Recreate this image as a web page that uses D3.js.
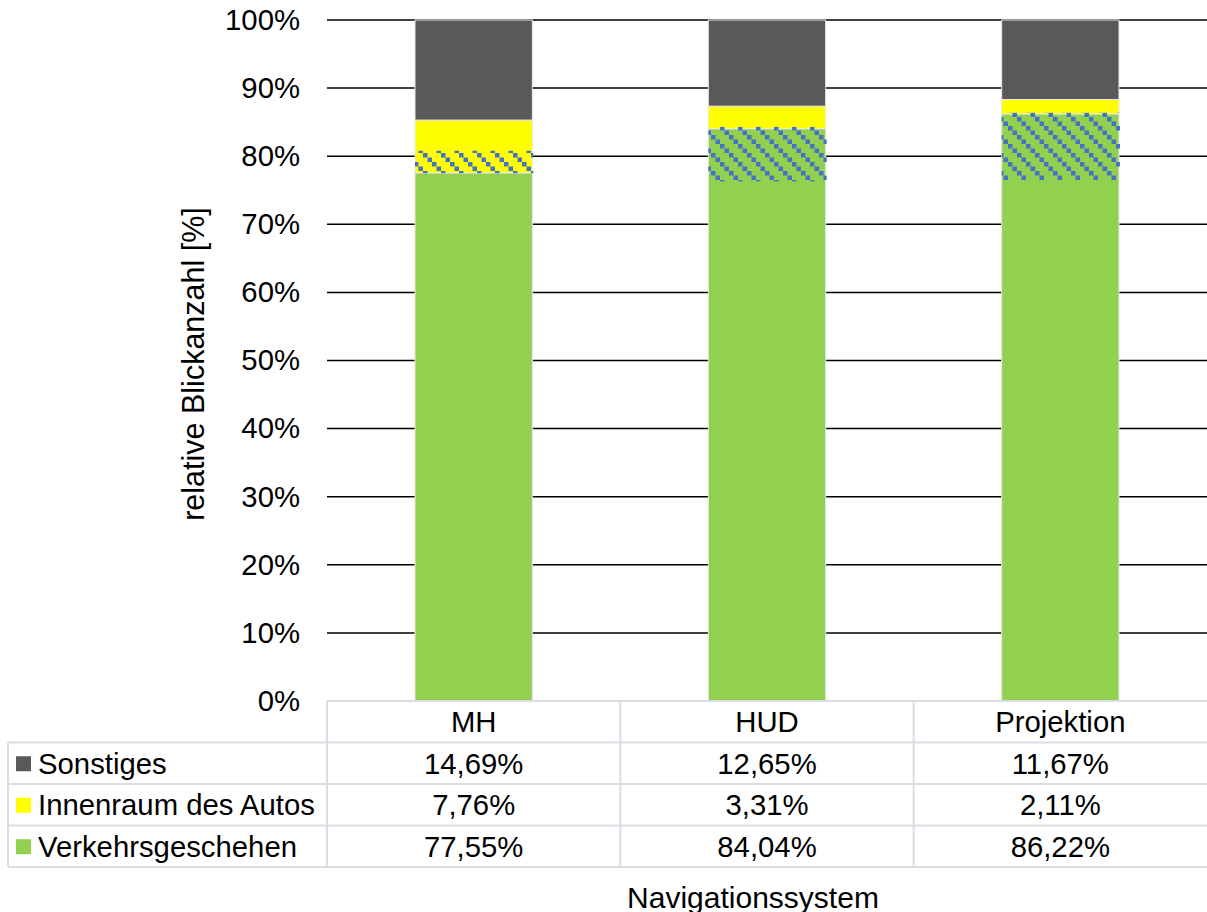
<!DOCTYPE html>
<html>
<head>
<meta charset="utf-8">
<script src="https://cdn.jsdelivr.net/npm/d3@7"></script>
<style>
  body { margin: 0; background: #fff; }
  svg text { font-family: "Liberation Sans", Arial, sans-serif; fill: #000; }
</style>
</head>
<body>
<svg id="chart" width="1207" height="912"></svg>
<script>
// data
var categories = ['MH', 'HUD', 'Projektion'];
var seriesNames = ['Sonstiges', 'Innenraum des Autos', 'Verkehrsgeschehen'];
var verkehr = [77.55, 84.04, 86.22];
var innenraum = [7.76, 3.31, 2.11];
var sonstiges = [14.69, 12.65, 11.67];
var verkehrLabels = ['77,55%', '84,04%', '86,22%'];
var innenraumLabels = ['7,76%', '3,31%', '2,11%'];
var sonstigesLabels = ['14,69%', '12,65%', '11,67%'];
// hatched overlay ranges (as seen in the picture)
var hatchLow = [77.5, 76.3, 76.5];
var hatchHigh = [80.8, 84.3, 86.4];
var yTicks = [0, 10, 20, 30, 40, 50, 60, 70, 80, 90, 100];

var colors = { 'Sonstiges': '#595959', 'Innenraum des Autos': '#ffff00', 'Verkehrsgeschehen': '#92d050' };
var fontSize = '29.3px';

var svg = d3.select('#chart');
var plot = { left: 327, right: 1207, top: 20, bottom: 701 };

var x = d3.scaleBand().domain(categories).range([plot.left, plot.right]).paddingInner(0.6).paddingOuter(0.3);
var band = d3.scaleBand().domain(categories).range([plot.left, plot.right]);
var y = d3.scaleLinear().domain([0, 100]).range([plot.bottom, plot.top]);

// pattern
var defs = svg.append('defs');
var pat = defs.append('pattern')
  .attr('id', 'hatch')
  .attr('patternUnits', 'userSpaceOnUse')
  .attr('width', 18).attr('height', 18);
[0, 4.5, 9, 13.5].forEach(function(d) {
  pat.append('rect').attr('x', d).attr('y', d).attr('width', 4.5).attr('height', 4.5).attr('fill', '#4472c4');
});

// gridlines
svg.append('g').selectAll('line')
  .data(yTicks.filter(function(t) { return t > 0; }))
  .enter().append('line')
  .attr('x1', plot.left).attr('x2', plot.right)
  .attr('y1', function(d) { return y(d); }).attr('y2', function(d) { return y(d); })
  .attr('stroke', '#000').attr('stroke-width', 1.5);

// y axis labels
var yAxis = d3.axisLeft(y).tickValues(yTicks).tickSize(0).tickPadding(27)
  .tickFormat(function(d) { return d + '%'; });
var ya = svg.append('g').attr('transform', 'translate(' + plot.left + ',0)').call(yAxis);
ya.select('.domain').remove();
ya.selectAll('text').style('font-size', fontSize).style('font-family', '"Liberation Sans", Arial, sans-serif').attr('fill', '#000');

// stacked bars
var rows = categories.map(function(c, i) {
  return { cat: c, 'Verkehrsgeschehen': verkehr[i], 'Innenraum des Autos': innenraum[i], 'Sonstiges': sonstiges[i] };
});
var stack = d3.stack().keys(['Verkehrsgeschehen', 'Innenraum des Autos', 'Sonstiges']);
var layers = stack(rows);

svg.append('g').selectAll('g')
  .data(layers)
  .enter().append('g')
  .attr('fill', function(d) { return colors[d.key]; })
  .selectAll('rect')
  .data(function(d) { return d; })
  .enter().append('rect')
  .attr('x', function(d) { return x(d.data.cat); })
  .attr('width', x.bandwidth())
  .attr('y', function(d) { return y(d[1]); })
  .attr('height', function(d) { return y(d[0]) - y(d[1]); })
  .attr('stroke', '#e8e8e8').attr('stroke-width', 1);

// hatched overlay
svg.append('g').selectAll('rect')
  .data(categories)
  .enter().append('rect')
  .attr('x', function(d) { return x(d); })
  .attr('width', x.bandwidth() + 1)
  .attr('y', function(d, i) { return y(hatchHigh[i]); })
  .attr('height', function(d, i) { return y(hatchLow[i]) - y(hatchHigh[i]); })
  .attr('fill', 'url(#hatch)');

// data table
var rowH = 41.5;
var tableTop = plot.bottom;
var tableLeft = 8;
var gridColor = '#dadde3';
var tbl = svg.append('g');

tbl.append('line')
  .attr('x1', plot.left).attr('x2', plot.right)
  .attr('y1', tableTop).attr('y2', tableTop)
  .attr('stroke', gridColor).attr('stroke-width', 2);
d3.range(1, 5).forEach(function(r) {
  tbl.append('line')
    .attr('x1', tableLeft).attr('x2', plot.right)
    .attr('y1', tableTop + r * rowH).attr('y2', tableTop + r * rowH)
    .attr('stroke', gridColor).attr('stroke-width', 2);
});
tbl.append('line')
  .attr('x1', tableLeft).attr('x2', tableLeft)
  .attr('y1', tableTop + rowH).attr('y2', tableTop + 4 * rowH)
  .attr('stroke', gridColor).attr('stroke-width', 2);
categories.forEach(function(c) {
  tbl.append('line')
    .attr('x1', band(c)).attr('x2', band(c))
    .attr('y1', tableTop).attr('y2', tableTop + 4 * rowH)
    .attr('stroke', gridColor).attr('stroke-width', 2);
});

// header
tbl.selectAll('text.head')
  .data(categories)
  .enter().append('text')
  .attr('class', 'head')
  .attr('x', function(d) { return band(d) + band.bandwidth() / 2; })
  .attr('y', tableTop + rowH / 2)
  .attr('dy', '0.35em')
  .attr('text-anchor', 'middle')
  .style('font-size', fontSize)
  .text(function(d) { return d; });

var tableRows = [
  { name: 'Sonstiges', labels: sonstigesLabels },
  { name: 'Innenraum des Autos', labels: innenraumLabels },
  { name: 'Verkehrsgeschehen', labels: verkehrLabels }
];

tableRows.forEach(function(row, r) {
  var cy = tableTop + (r + 1.5) * rowH;
  tbl.append('rect')
    .attr('x', 16).attr('y', cy - 7).attr('width', 15).attr('height', 15)
    .attr('fill', colors[row.name]);
  tbl.append('text')
    .attr('x', 38).attr('y', cy).attr('dy', '0.35em')
    .style('font-size', fontSize)
    .text(row.name);
  tbl.selectAll('text.v' + r)
    .data(row.labels)
    .enter().append('text')
    .attr('class', 'v' + r)
    .attr('x', function(d, i) { return band(categories[i]) + band.bandwidth() / 2; })
    .attr('y', cy).attr('dy', '0.35em')
    .attr('text-anchor', 'middle')
    .style('font-size', fontSize)
    .text(function(d) { return d; });
});

// axis titles
svg.append('text')
  .attr('transform', 'translate(193,' + 364 + ') rotate(-90)')
  .attr('text-anchor', 'middle')
  .attr('dy', '0.35em')
  .style('font-size', '30.5px')
  .text('relative Blickanzahl [%]');

svg.append('text')
  .attr('x', 753)
  .attr('y', 897).attr('dy', '0.35em')
  .attr('text-anchor', 'middle')
  .style('font-size', '30px')
  .text('Navigationssystem');
</script>
</body>
</html>
